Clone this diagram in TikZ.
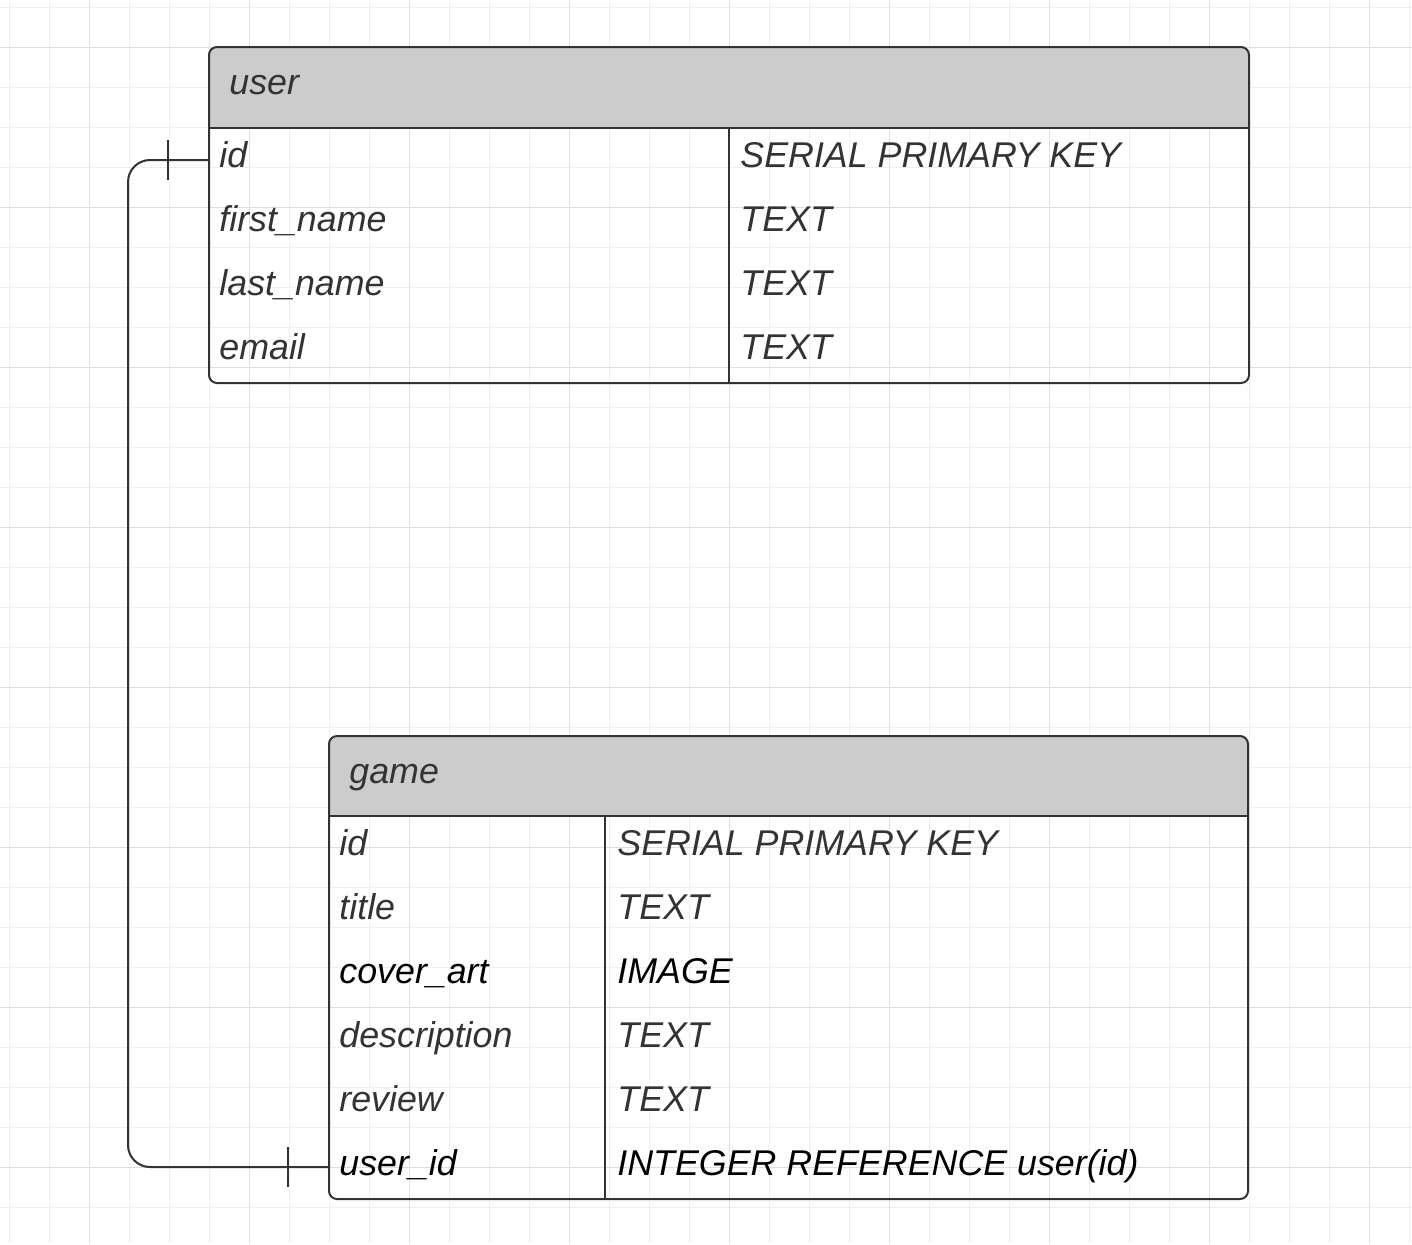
\documentclass[tikz,border=0pt]{standalone}
\usepackage{fontspec}
\setmainfont{Liberation Sans}
\definecolor{linegray}{HTML}{333333}
\definecolor{textgray}{HTML}{333333}
\definecolor{headgray}{HTML}{CCCCCC}
\definecolor{minorgrid}{HTML}{EFEFEF}
\definecolor{majorgrid}{HTML}{DEDEDE}
\tikzset{
  tablebox/.style={draw=linegray, line width=1pt, rounded corners=4pt},
  divider/.style={draw=linegray, line width=1pt},
  field/.style={anchor=base west, inner sep=0pt, text=textgray, font=\fontsize{17.9}{21}\selectfont\itshape},
  blackfield/.style={field, text=black},
  link/.style={draw=linegray, line width=1pt},
}
\begin{document}
\begin{tikzpicture}[x=0.5pt, y=-0.5pt]
    \useasboundingbox (0,0) rectangle (1412,1244);
    \fill[white] (0,0) rectangle (1412,1244);
    \foreach \x in {9,49,...,1409} \draw[minorgrid, line width=0.5pt] (\x,0) -- (\x,1244);
    \foreach \y in {7,47,...,1207} \draw[minorgrid, line width=0.5pt] (0,\y) -- (1412,\y);
    \foreach \x in {89,249,...,1369} \draw[majorgrid, line width=0.5pt] (\x,0) -- (\x,1244);
    \foreach \y in {47,207,...,1167} \draw[majorgrid, line width=0.5pt] (0,\y) -- (1412,\y);
    \begin{scope}
    \clip[rounded corners=4pt] (209,47) rectangle (1249,383);
    \fill[headgray] (209,47) rectangle (1249,128);
    \end{scope}
    \draw[tablebox] (209,47) rectangle (1249,383);
    \draw[divider] (209,128) -- (1249,128);
    \draw[divider] (729,128) -- (729,383);
    \node[field] (user) at (229,94) {user};
    \node[field] (user-id) at (219,167) {id};
    \node[field] (user-first) at (219,231) {first\_name};
    \node[field] (user-last) at (219,295) {last\_name};
    \node[field] (user-email) at (219,359) {email};
    \node[field] (user-id-type) at (740,167) {SERIAL PRIMARY KEY};
    \node[field] (user-first-type) at (740,231) {TEXT};
    \node[field] (user-last-type) at (740,295) {TEXT};
    \node[field] (user-email-type) at (740,359) {TEXT};
    \begin{scope}
    \clip[rounded corners=4pt] (329,736) rectangle (1248,1199);
    \fill[headgray] (329,736) rectangle (1248,816);
    \end{scope}
    \draw[tablebox] (329,736) rectangle (1248,1199);
    \draw[divider] (329,816) -- (1248,816);
    \draw[divider] (605,816) -- (605,1199);
    \node[field] (game) at (349,783) {game};
    \node[field] (game-id) at (339,855) {id};
    \node[field] (game-title) at (339,919) {title};
    \node[blackfield] (game-art) at (339,983) {cover\_art};
    \node[field] (game-desc) at (339,1047) {description};
    \node[field] (game-review) at (339,1111) {review};
    \node[blackfield] (game-user) at (339,1175) {user\_id};
    \node[field] (game-id-type) at (617,855) {SERIAL PRIMARY KEY};
    \node[field] (game-title-type) at (617,919) {TEXT};
    \node[blackfield] (game-art-type) at (617,983) {IMAGE};
    \node[field] (game-desc-type) at (617,1047) {TEXT};
    \node[field] (game-review-type) at (617,1111) {TEXT};
    \node[blackfield] (game-user-type) at (617,1175) {INTEGER REFERENCE user(id)};
    \coordinate (user-port) at (209,160);
    \coordinate (game-port) at (329,1167);
    \draw[link, rounded corners=11pt] (user-port) -| (128,1167) -- (game-port);
    \draw[link] (user-port) ++(-41,-20) -- ++(0,40);
    \draw[link] (game-port) ++(-41,-20) -- ++(0,40);
\end{tikzpicture}
\end{document}
